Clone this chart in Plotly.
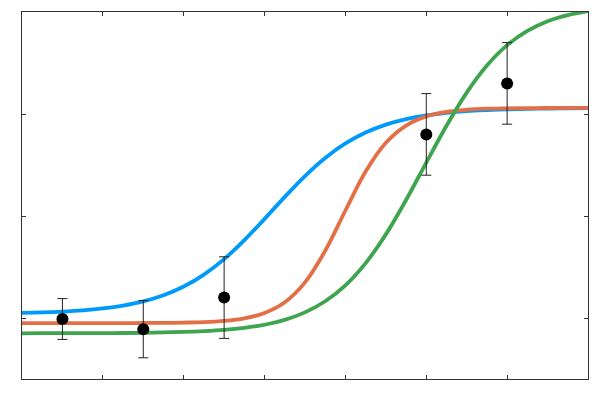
import plotly.graph_objects as go

# Observed data points
pt_x = [0.5, 1.5, 2.5, 5.0, 6.0]
pt_y = [0.99, 0.89, 1.20, 2.80, 3.30]
pt_err = [0.20, 0.28, 0.40, 0.40, 0.40]

# Fitted curves
curve_x = [0, 0.25, 0.5, 0.75, 1.0, 1.25, 1.5, 1.75, 2.0, 2.25, 2.5, 2.75, 3.0, 3.25, 3.5,
           3.75, 4.0, 4.25, 4.5, 4.75, 5.0, 5.25, 5.5, 5.75, 6.0, 6.25, 6.5, 6.75, 7.0]
blue_y = [1.050, 1.055, 1.063, 1.075, 1.094, 1.122, 1.163, 1.223, 1.309, 1.426, 1.577, 1.763,
          1.972, 2.188, 2.392, 2.569, 2.711, 2.818, 2.896, 2.950, 2.987, 3.012, 3.029, 3.039,
          3.046, 3.051, 3.054, 3.056, 3.058]
orange_y = [0.950, 0.950, 0.950, 0.950, 0.950, 0.950, 0.951, 0.952, 0.955, 0.960, 0.972, 0.997,
            1.049, 1.154, 1.349, 1.659, 2.054, 2.436, 2.718, 2.887, 2.977, 3.021, 3.042, 3.052,
            3.056, 3.058, 3.059, 3.060, 3.060]
green_y = [0.850, 0.851, 0.851, 0.851, 0.852, 0.853, 0.855, 0.859, 0.864, 0.872, 0.884, 0.904,
           0.934, 0.982, 1.055, 1.164, 1.320, 1.538, 1.820, 2.157, 2.524, 2.885, 3.210, 3.475,
           3.675, 3.815, 3.910, 3.970, 4.010]

x_ticks = [1, 2, 3, 4, 5, 6]
y_ticks = [1, 2, 3]

fig = go.Figure()
for ys, col in [(blue_y, "#009AFA"), (orange_y, "#E36F47"), (green_y, "#3EA44E")]:
    fig.add_trace(go.Scatter(x=curve_x, y=ys, mode="lines",
                             line=dict(color=col, width=3.8, shape="spline", smoothing=1.0),
                             showlegend=False, hoverinfo="skip", cliponaxis=True))

fig.add_trace(go.Scatter(x=pt_x, y=pt_y, mode="markers",
                         marker=dict(color="black", size=12),
                         error_y=dict(type="data", array=pt_err, color="#222222", thickness=1, width=5),
                         showlegend=False))

axis_common = dict(showline=True, linecolor="#333333", linewidth=1, mirror="ticks",
                   ticks="inside", ticklen=4, tickcolor="#333333", showticklabels=False,
                   showgrid=False, zeroline=False)
fig.update_xaxes(range=[0, 7], tickvals=x_ticks, **axis_common)
fig.update_yaxes(range=[0.402, 4.0], tickvals=y_ticks, **axis_common)
fig.update_layout(width=584, height=384, margin=dict(l=14, r=4, t=4, b=13),
                  plot_bgcolor="white", paper_bgcolor="white")
fig.write_html("out.html")
